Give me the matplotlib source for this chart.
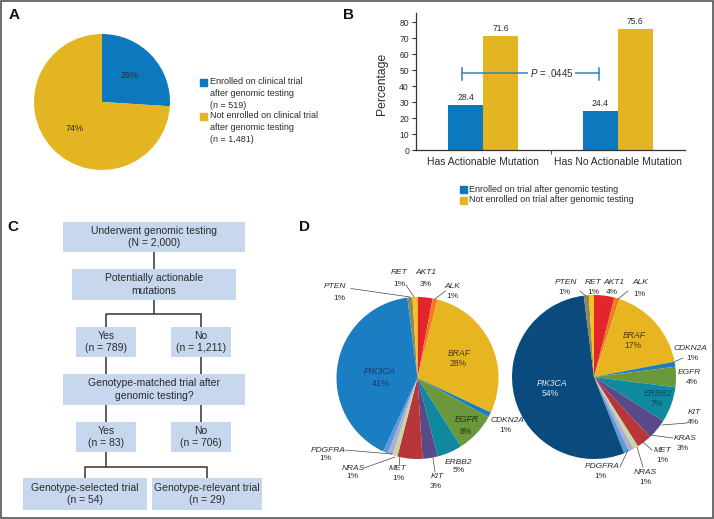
import matplotlib
matplotlib.use('Agg')
import matplotlib.pyplot as plt
from matplotlib.patches import Rectangle
import numpy as np

plt.rcParams['font.family'] = ['Liberation Sans', 'DejaVu Sans']
plt.rcParams['mathtext.fontset'] = 'custom'
plt.rcParams['mathtext.rm'] = 'Liberation Sans'
plt.rcParams['mathtext.it'] = 'Liberation Sans:italic'

# ---------------- data ----------------
# Panel A
a_values = [26, 74]
a_legend = ['Enrolled on clinical trial\nafter genomic testing\n(n = 519)',
            'Not enrolled on clinical trial\nafter genomic testing\n(n = 1,481)']
# Panel B
b_categories = ['Has Actionable Mutation', 'Has No Actionable Mutation']
b_enrolled = [28.4, 24.4]
b_not_enrolled = [71.6, 75.6]
b_series = ['Enrolled on trial after genomic testing',
            'Not enrolled on trial after genomic testing']
b_pvalue = '.0445'
b_yticks = [0, 10, 20, 30, 40, 50, 60, 70, 80]
# Panel C (flowchart texts)
c_top = ['Underwent genomic testing', '(N = 2,000)']
c_actionable = ['Potentially actionable', 'mutations']
c_yes1 = ['Yes', '(n = 789)']
c_no1 = ['No', '(n = 1,211)']
c_matched = ['Genotype-matched trial after', 'genomic testing?']
c_yes2 = ['Yes', '(n = 83)']
c_no2 = ['No', '(n = 706)']
c_selected = ['Genotype-selected trial', '(n = 54)']
c_relevant = ['Genotype-relevant trial', '(n = 29)']
# Panel D
d_genes = ['AKT1', 'ALK', 'BRAF', 'CDKN2A', 'EGFR', 'ERBB2', 'KIT', 'KRAS',
           'MET', 'NRAS', 'PDGFRA', 'PIK3CA', 'PTEN', 'RET']
d_left = [3, 1, 28, 1, 8, 5, 3, 5, 1, 1, 1, 41, 1, 1]
d_right = [4, 1, 17, 1, 4, 7, 4, 3, 1, 1, 1, 54, 1, 1]

# ---------------- styles ----------------
W, H = 714, 519
BLUE = '#0c79bf'
YEL = '#e4b523'
TXT = '#2b2b2b'
BOX = '#c6d7ee'
gene_colors = {'AKT1': '#e2262b', 'ALK': '#f37a21', 'BRAF': '#e6b51f',
               'CDKN2A': '#1b7dc2', 'EGFR': '#6a983b', 'ERBB2': '#0f899f',
               'KIT': '#5a4a8a', 'KRAS': '#b83539', 'MET': '#c4d9a0',
               'NRAS': '#b4aad7', 'PDGFRA': '#5b9bd6', 'PIK3CA': '#1b7dc2',
               'PTEN': '#8c8a5c', 'RET': '#f6c31b'}
right_colors = dict(gene_colors, PIK3CA='#0b4a7d')

fig = plt.figure(figsize=(W / 100, H / 100), dpi=100)


def px_axes(x0, y0, x1, y1):
    return fig.add_axes([x0 / W, 1 - y1 / H, (x1 - x0) / W, (y1 - y0) / H])


# ---------------- Panel A ----------------
axa = px_axes(34, 34, 170, 170)
axa.pie(a_values, colors=[BLUE, YEL], startangle=90, counterclock=False,
        autopct='%d%%', pctdistance=0.56,
        textprops=dict(fontsize=6.5, color=TXT))
axa.set_xlim(-1, 1)
axa.set_ylim(-1, 1)

# ---------------- Panel B ----------------
axb = px_axes(416, 12.7, 685, 150)
x = np.array([0.5, 1.5])
w = 0.26
axb.bar(x - w / 2, b_enrolled, w, color=BLUE)
axb.bar(x + w / 2, b_not_enrolled, w, color=YEL)
for xi, v in zip(x - w / 2, b_enrolled):
    axb.text(xi, v + 4.6, f'{v}', ha='center', va='center', fontsize=6.2, color=TXT)
for xi, v in zip(x + w / 2, b_not_enrolled):
    axb.text(xi, v + 4.6, f'{v}', ha='center', va='center', fontsize=6.2, color=TXT)
axb.set_xlim(0, 2)
axb.set_ylim(0, 86)
axb.set_yticks(b_yticks)
axb.set_xticks(x)
axb.set_xticklabels(b_categories, fontsize=7.5, color=TXT)
axb.set_xticks([1.0], minor=True)
axb.tick_params(axis='x', which='major', length=0, pad=5)
axb.tick_params(axis='x', which='minor', length=3, width=0.8, color='#555')
axb.tick_params(axis='y', length=3, width=0.8, labelsize=6.2, pad=2,
                color='#333', labelcolor=TXT)
for s in ['top', 'right']:
    axb.spines[s].set_visible(False)
for s in ['left', 'bottom']:
    axb.spines[s].set_linewidth(0.9)
    axb.spines[s].set_color('#333')
axb.set_ylabel('Percentage', fontsize=8.7, color=TXT)
axb.yaxis.set_label_coords(-0.104, 0.48)
# p-value bracket
pc = '#2f84b8'
axb.plot([0.342, 1.36], [48, 48], color=pc, lw=1.1)
axb.plot([0.342, 0.342], [43.9, 51.4], color=pc, lw=1.1)
axb.plot([1.36, 1.36], [43.9, 51.4], color=pc, lw=1.1)
axb.text(1.01, 48, r'$P$ = ' + b_pvalue, ha='center', va='center', fontsize=7,
         color=TXT, bbox=dict(facecolor='white', edgecolor='none', pad=1.2))

# ---------------- Panel D pies ----------------
def pie_axes(cx, cy, r, vals, cmap):
    ax = px_axes(cx - r, cy - r, cx + r, cy + r)
    ax.pie(vals, colors=[cmap[g] for g in d_genes], startangle=90,
           counterclock=False, wedgeprops=dict(linewidth=0))
    ax.set_xlim(-1, 1)
    ax.set_ylim(-1, 1)
    return ax

pie_axes(417.5, 378, 81, d_left, gene_colors)
pie_axes(594, 377, 82, d_right, right_colors)

# ---------------- overlay (pixel coords) ----------------
ov = fig.add_axes([0, 0, 1, 1])
ov.set_xlim(0, W)
ov.set_ylim(H, 0)
ov.axis('off')
ov.patch.set_alpha(0)

def t(xp, yp, s, size=6, style='normal', color=TXT, ha='center', weight='normal'):
    ov.text(xp, yp, s, fontsize=size, fontstyle=style, color=color, ha=ha,
            va='center', fontweight=weight)

# panel letters
for lab, (lx, ly) in zip('ABCD', [(14, 15), (348, 15), (13, 227), (305, 227)]):
    t(lx, ly, lab, size=11, weight='bold', color='#111')

# Panel A legend
for i, (lab, c) in enumerate(zip(a_legend, [BLUE, YEL])):
    y0 = 82 + i * 34
    ov.add_patch(Rectangle((200, y0 - 3.5), 7, 7, color=c))
    for j, line in enumerate(lab.split('\n')):
        t(209.5, y0 + j * 11.5, line, size=6.5, ha='left')

# Panel B legend
for i, (lab, c) in enumerate(zip(b_series, [BLUE, YEL])):
    y0 = 189 + i * 11
    ov.add_patch(Rectangle((460, y0 - 3.5), 7, 7, color=c))
    t(469, y0, lab, size=6.5, ha='left')

# Panel C flowchart
boxes = [((63, 222, 245, 252), c_top, 154),
         ((72, 269, 236, 300), c_actionable, 154),
         ((76, 327, 136, 357), c_yes1, 106),
         ((171, 327, 231, 357), c_no1, 201),
         ((63, 374, 245, 405), c_matched, 154),
         ((76, 422, 136, 452), c_yes2, 106),
         ((171, 422, 231, 452), c_no2, 201),
         ((23, 478, 147, 510), c_selected, 85),
         ((152, 478, 262, 510), c_relevant, 207)]
for (x0, y0, x1, y1), lines, cx in boxes:
    ov.add_patch(Rectangle((x0, y0), x1 - x0, y1 - y0, facecolor=BOX, edgecolor='none'))
    yc = (y0 + y1) / 2
    t(cx, yc - 6.2, lines[0], size=7.5)
    t(cx, yc + 6.2, lines[1], size=7.5)

conn = [[(154, 252), (154, 269)],
        [(154, 300), (154, 314)],
        [(106, 327), (106, 314), (201, 314), (201, 327)],
        [(106, 357), (106, 374)], [(201, 357), (201, 374)],
        [(106, 405), (106, 422)], [(201, 405), (201, 422)],
        [(106, 452), (106, 467)],
        [(85, 478), (85, 467), (207, 467), (207, 478)]]
for seg in conn:
    xs, ys = zip(*seg)
    ov.plot(xs, ys, color='#333', lw=1.1, solid_capstyle='butt')

# Panel D labels: gene -> (name xy, pct xy, leader line or None)
left_lab = {
    'RET': ((399, 273), (399, 284), [(406, 285), (414, 297)]),
    'AKT1': ((426, 273), (426, 284), None),
    'ALK': ((452, 286), (452, 296), [(445.5, 291), (435, 299)]),
    'PTEN': ((335, 286), (339, 299), [(351, 288.5), (410, 297)]),
    'CDKN2A': ((507, 420), (505, 430), None),
    'ERBB2': ((458, 462), (459, 471), None),
    'KIT': ((437, 477), (436, 487), [(435, 472), (433, 458)]),
    'MET': ((398, 468), (398, 478), [(399, 464), (399, 457)]),
    'NRAS': ((353, 468), (352, 477), [(364, 468), (395, 457)]),
    'PDGFRA': ((328, 450), (325, 459), [(345, 450), (392, 454)]),
}
left_inner = {'PIK3CA': ((380, 371), (381, 383), '#1a3c6c'),
              'BRAF': ((459, 353), (458, 364), '#4a3a10'),
              'EGFR': ((467, 420), (466, 431), '#24330f')}
right_lab = {
    'PTEN': ((566, 283), (564, 293), [(580, 291), (586, 296)]),
    'RET': ((593, 283), (593, 293), None),
    'AKT1': ((614, 283), (612, 293), None),
    'ALK': ((640, 283), (639, 294), [(628, 291), (618, 299)]),
    'CDKN2A': ((690, 348), (692, 358), [(683, 358), (675, 361.5)]),
    'EGFR': ((689, 372), (692, 382), None),
    'KIT': ((694, 413), (693, 423), [(687, 423), (662, 425)]),
    'KRAS': ((685, 439), (683, 449), [(673, 438), (650, 435)]),
    'MET': ((663, 450), (662, 460), [(652, 450), (643, 442)]),
    'NRAS': ((645, 472), (645, 482), [(643, 467), (637, 447)]),
    'PDGFRA': ((602, 467), (600, 477), [(620, 467), (628, 450)]),
}
right_inner = {'PIK3CA': ((552, 383), (550, 394), '#dbe6f2'),
               'BRAF': ((634, 336), (633, 346), '#4a3a10'),
               'ERBB2': ((658, 393), (657, 403), '#0a4a5c')}

for labs, inner, vals in [(left_lab, left_inner, d_left), (right_lab, right_inner, d_right)]:
    for g, (nxy, pxy, line) in labs.items():
        v = vals[d_genes.index(g)]
        t(nxy[0], nxy[1], g, size=6, style='italic')
        t(pxy[0], pxy[1], f'{v}%', size=6)
        if line:
            xs, ys = zip(*line)
            ov.plot(xs, ys, color='#444', lw=0.5)
    for g, (nxy, pxy, col) in inner.items():
        v = vals[d_genes.index(g)]
        sz = 6.5 if vals is d_left and g == 'PIK3CA' else 6.2
        t(nxy[0], nxy[1], g, size=sz, style='italic', color=col)
        t(pxy[0], pxy[1], f'{v}%', size=sz, color=col)

# outer border
ov.add_patch(Rectangle((0.8, 0.8), W - 1.6, H - 1.6, facecolor='none',
                       edgecolor='#555', lw=1.2, clip_on=False))

fig.savefig('out.png', dpi=100)
